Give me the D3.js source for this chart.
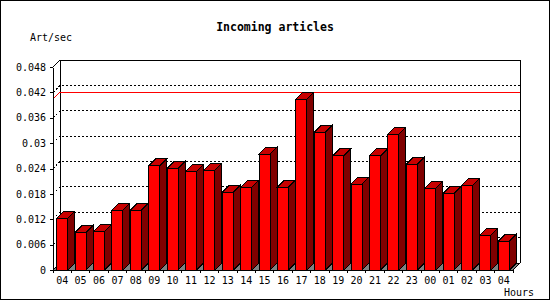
<!DOCTYPE html>
<html>
<head>
<meta charset="utf-8">
<script src="https://cdn.jsdelivr.net/npm/d3@7/dist/d3.min.js"></script>
<style>
  body { margin: 0; background: #fff; }
  text { font-family: "DejaVu Sans Mono", monospace; }
</style>
</head>
<body>
<div id="chart"></div>
<script>
// hours on the x axis (24h window, wraps round)
const hours = ['04', '05', '06', '07', '08', '09', '10', '11', '12', '13', '14', '15', '16',
  '17', '18', '19', '20', '21', '22', '23', '00', '01', '02', '03', '04'];
// articles per second
const artPerSec = [0.0122, 0.0089, 0.0091, 0.0141, 0.0141, 0.0246, 0.0240, 0.0233, 0.0236,
  0.0184, 0.0196, 0.0274, 0.0196, 0.0404, 0.0326, 0.0270, 0.0203, 0.0270, 0.0321, 0.0250,
  0.0193, 0.0181, 0.0200, 0.0082, 0.0068];
const yTicks = [0, 0.006, 0.012, 0.018, 0.024, 0.03, 0.036, 0.042, 0.048];

const W = 550, H = 300;
const depth = 7;
const plotLeft = 53, plotRight = 513, plotBottom = 270, plotTop = 67;

const svg = d3.select('#chart').append('svg')
  .attr('width', W)
  .attr('height', H);

svg.append('rect')
  .attr('x', 0.5).attr('y', 0.5)
  .attr('width', W - 1).attr('height', H - 1)
  .attr('fill', '#fff')
  .attr('stroke', '#000');

const x = d3.scaleBand()
  .domain(d3.range(hours.length))
  .range([plotLeft, plotRight]);

const y = d3.scaleLinear()
  .domain([0, 0.048])
  .range([plotBottom, plotTop]);

const g = svg.append('g').attr('shape-rendering', 'crispEdges');

// back wall outline
g.append('path')
  .attr('d', `M${plotLeft + depth},${plotBottom - depth}V${plotTop - depth}H${plotRight + depth}V${plotBottom - depth}`)
  .attr('fill', 'none')
  .attr('stroke', '#000');
g.append('line')
  .attr('x1', plotLeft).attr('y1', plotTop)
  .attr('x2', plotLeft + depth).attr('y2', plotTop - depth)
  .attr('stroke', '#000');

// dotted grid on the back wall
const grid = yTicks.filter(d => d > 0 && d < 0.048);
g.selectAll('.grid')
  .data(grid)
  .enter()
  .append('path')
  .attr('class', 'grid')
  .attr('d', d => `M${plotLeft},${y(d)}L${plotLeft + depth},${y(d) - depth}H${plotRight + depth}`)
  .attr('fill', 'none')
  .attr('stroke', '#000')
  .attr('stroke-dasharray', '2,2');

// max line
const maxVal = d3.max(artPerSec);
g.append('path')
  .attr('d', `M${plotLeft},${y(maxVal)}L${plotLeft + depth},${y(maxVal) - depth}H${plotRight + depth}`)
  .attr('fill', 'none')
  .attr('stroke', '#ff0000');

// floor
g.append('path')
  .attr('d', `M${plotLeft},${plotBottom}H${plotRight}L${plotRight + depth},${plotBottom - depth}H${plotLeft + depth}Z`)
  .attr('fill', '#808080')
  .attr('stroke', '#000');

// bars
const bw = x.bandwidth() * 0.6;
const off = x.bandwidth() * 0.2;
const bars = g.selectAll('.bar')
  .data(artPerSec)
  .enter()
  .append('g')
  .attr('class', 'bar');

bars.append('path')
  .attr('d', (d, i) => {
    const x1 = x(i) + off + bw;
    return `M${x1},${y(d)}l${depth},${-depth}V${plotBottom - depth}L${x1},${plotBottom}Z`;
  })
  .attr('fill', '#800000')
  .attr('stroke', '#000');

bars.append('path')
  .attr('d', (d, i) => {
    const x0 = x(i) + off;
    return `M${x0},${y(d)}l${depth},${-depth}h${bw}l${-depth},${depth}Z`;
  })
  .attr('fill', '#c80000')
  .attr('stroke', '#000');

bars.append('rect')
  .attr('x', (d, i) => x(i) + off)
  .attr('y', d => y(d))
  .attr('width', bw)
  .attr('height', d => plotBottom - y(d))
  .attr('fill', '#ff0000')
  .attr('stroke', '#000');

// axes
const yAxis = svg.append('g')
  .attr('transform', `translate(${plotLeft},0)`)
  .call(d3.axisLeft(y).tickValues(yTicks).tickSize(3).tickSizeOuter(0).tickPadding(4)
    .tickFormat(d => String(d)));

const xAxis = svg.append('g')
  .attr('transform', `translate(0,${plotBottom})`)
  .call(d3.axisBottom(x).tickSize(0).tickSizeOuter(0).tickPadding(7)
    .tickFormat(i => hours[i]));

// ticks sit on the band edges
xAxis.selectAll('.edge')
  .data(d3.range(hours.length + 1))
  .enter()
  .append('line')
  .attr('class', 'edge')
  .attr('x1', i => i < hours.length ? x(i) : plotRight)
  .attr('x2', i => i < hours.length ? x(i) : plotRight)
  .attr('y1', 0).attr('y2', 3)
  .attr('stroke', '#000');

svg.selectAll('.domain, .tick line, .edge')
  .attr('shape-rendering', 'crispEdges')
  .attr('stroke', '#000');
svg.selectAll('.tick text')
  .attr('font-family', '"DejaVu Sans Mono", monospace')
  .attr('font-size', 10)
  .attr('fill', '#000');

// titles
svg.append('text')
  .attr('x', W / 2)
  .attr('y', 31)
  .attr('text-anchor', 'middle')
  .attr('font-size', 11.5)
  .attr('font-weight', 'bold')
  .text('Incoming articles');

svg.append('text')
  .attr('x', 30)
  .attr('y', 41)
  .attr('font-size', 10)
  .text('Art/sec');

svg.append('text')
  .attr('x', 504)
  .attr('y', 296)
  .attr('font-size', 10)
  .text('Hours');
</script>
</body>
</html>
